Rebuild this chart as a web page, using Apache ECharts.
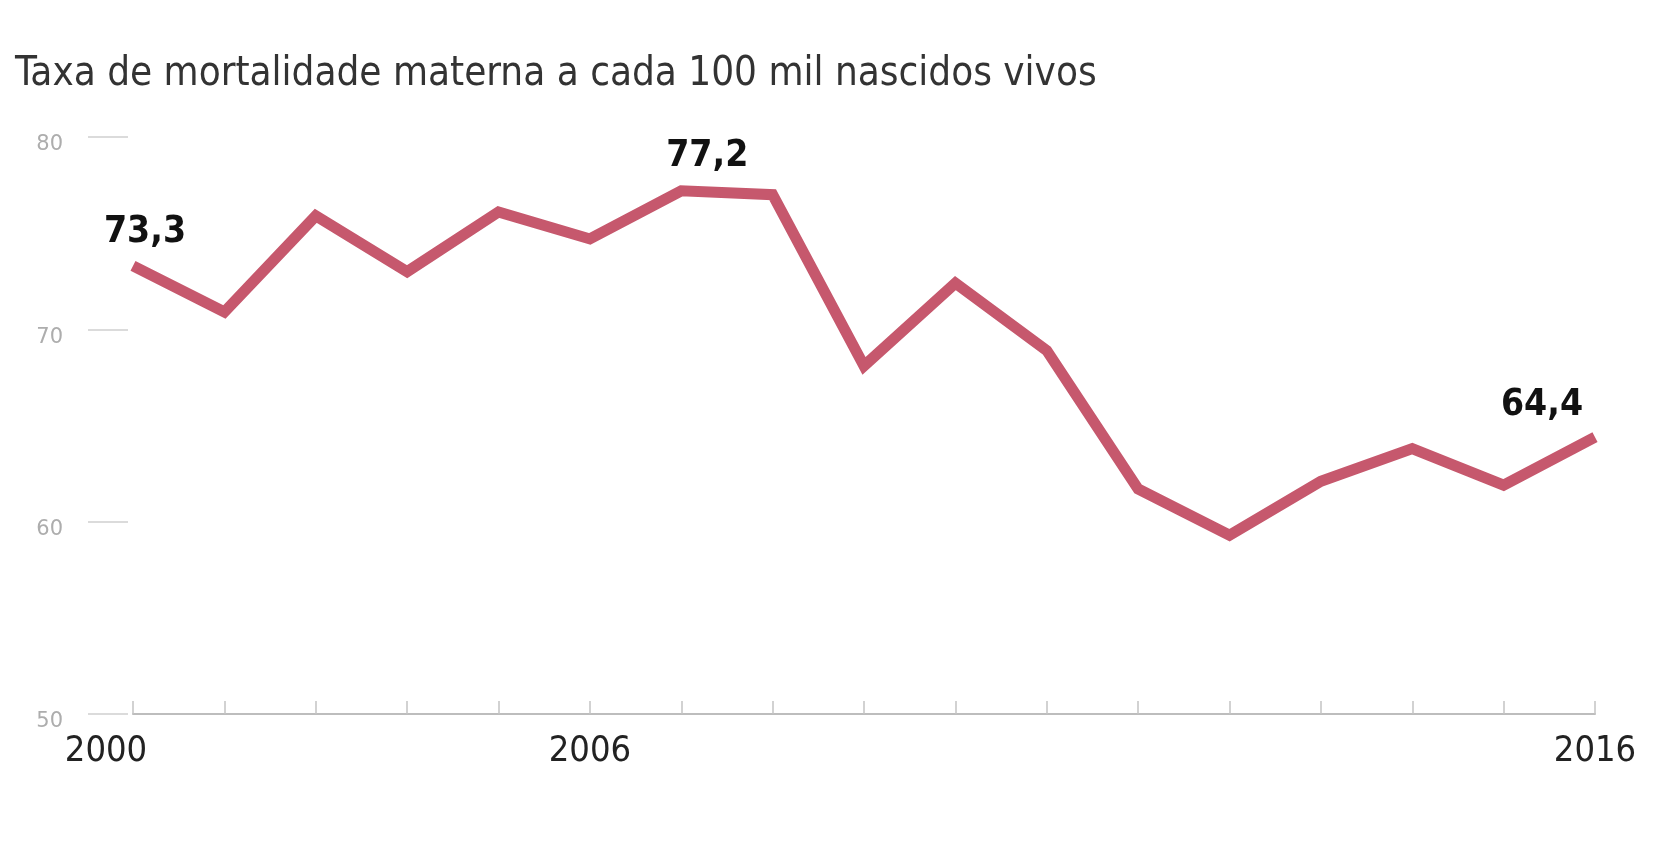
<!DOCTYPE html>
<html>
<head>
<meta charset="utf-8">
<script src="https://cdn.jsdelivr.net/npm/echarts@6/dist/echarts.min.js"></script>
<style>
html,body{margin:0;padding:0;background:#fff;}
#chart{width:1657px;height:849px;}
</style>
</head>
<body>
<div id="chart"></div>
<script>
// ---- data ----
var titleText = 'Taxa de mortalidade materna a cada 100 mil nascidos vivos';
var years = ['2000','2001','2002','2003','2004','2005','2006','2007','2008','2009','2010','2011','2012','2013','2014','2015','2016'];
var rates = [73.3, 70.9, 75.9, 73.0, 76.1, 74.7, 77.2, 77.0, 68.1, 72.4, 68.9, 61.7, 59.3, 62.1, 63.8, 61.9, 64.4];
// tick labels as printed on the reference (by tick position)
var xTickLabels = ['2000','','','','','2006','','','','','','','','','','','2016'];
var yTicks = [50, 60, 70, 80];
// labelled points (index -> label text)
var pointLabels = {0: '73,3', 6: '77,2', 16: '64,4'};

// ---- styling (not data) ----
var NARROW = "'Liberation Sans Narrow', 'DejaVu Sans Condensed', 'Arial Narrow', sans-serif";
var labelOffsets = {0: [12, -9], 6: [26, -10], 16: [-53, -8]};

var seriesData = rates.map(function (v, i) {
  if (pointLabels[i] !== undefined) {
    return {
      value: v,
      label: {
        show: true,
        position: 'top',
        distance: 5,
        offset: labelOffsets[i],
        formatter: pointLabels[i],
        fontFamily: NARROW,
        fontWeight: 'bold',
        fontSize: 37,
        color: '#111'
      }
    };
  }
  return v;
});

var chart = echarts.init(document.getElementById('chart'), null, {renderer: 'canvas'});
chart.setOption({
  animation: false,
  backgroundColor: '#ffffff',
  title: {
    text: titleText,
    left: 10,
    top: 50,
    textStyle: {
      fontFamily: NARROW,
      fontWeight: 'normal',
      fontSize: 40,
      color: '#333'
    }
  },
  grid: {left: 133, right: 62, top: 137, bottom: 135, containLabel: false},
  xAxis: {
    type: 'category',
    data: years,
    boundaryGap: false,
    axisLine: {show: true, lineStyle: {color: '#bdbdbd', width: 2}},
    axisTick: {show: true, inside: true, length: 13, interval: 0, lineStyle: {color: '#c4c4c4', width: 1.5}},
    axisLabel: {
      interval: 0,
      margin: 20,
      fontFamily: NARROW,
      fontSize: 36,
      color: '#222',
      formatter: function (val, idx) {
        var t = xTickLabels[idx] || '';
        if (!t) return '';
        if (idx === 0) return '{first|' + t + '}';
        return t;
      },
      rich: {
        first: {fontFamily: NARROW, fontSize: 36, color: '#222', padding: [0, 54, 0, 0]}
      }
    },
    splitLine: {show: false}
  },
  yAxis: {
    type: 'value',
    min: yTicks[0],
    max: yTicks[yTicks.length - 1],
    interval: 10,
    offset: 5,
    axisLine: {show: false},
    axisTick: {show: true, length: 40, lineStyle: {color: '#cfcfcf', width: 1.5}},
    axisLabel: {
      margin: 65,
      fontFamily: "'DejaVu Sans', sans-serif",
      fontSize: 21,
      color: '#adadad',
      formatter: function (v) {
        if (v === yTicks[0]) return '{low|' + v + '}';
        return '{n|' + v + '}';
      },
      rich: {
        n: {fontFamily: "'DejaVu Sans', sans-serif", fontSize: 21, color: '#adadad', padding: [16, 0, 0, 0]},
        low: {fontFamily: "'DejaVu Sans', sans-serif", fontSize: 21, color: '#adadad', padding: [16, 0, 0, 0]}
      }
    },
    splitLine: {show: false}
  },
  series: [{
    type: 'line',
    data: seriesData,
    symbol: 'circle',
    symbolSize: 1,
    showSymbol: true,
    lineStyle: {color: '#c6586d', width: 11, join: 'miter'},
    itemStyle: {color: 'rgba(196,86,108,0)'},
    z: 3
  }]
});
</script>
</body>
</html>
